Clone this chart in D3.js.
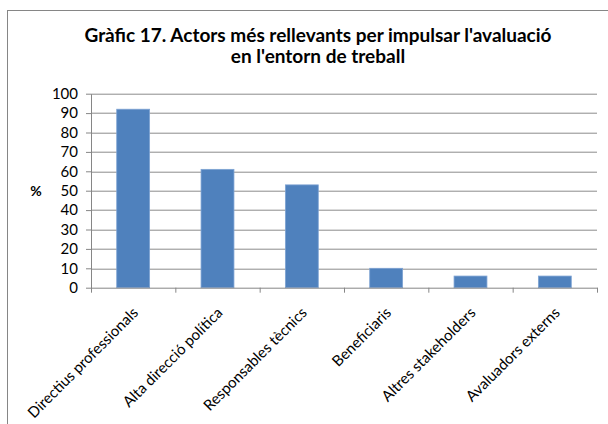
<!DOCTYPE html>
<html>
<head>
<meta charset="utf-8">
<script src="https://cdn.jsdelivr.net/npm/d3@7"></script>
<style>
  body { margin: 0; background: #fff; }
  text { font-family: Lato, "Open Sans", sans-serif; }
</style>
</head>
<body>
<svg id="drawing_region"></svg>
<script>
const categories = ["Directius professionals", "Alta direcció política", "Responsables tècnics",
                    "Beneficiaris", "Altres stakeholders", "Avaluadors externs"];
const values = [92, 61, 53, 10, 6, 6];
const yticks = [0, 10, 20, 30, 40, 50, 60, 70, 80, 90, 100];
const titleLines = ["Gràfic 17. Actors més rellevants per impulsar l'avaluació", "en l'entorn de treball"];

const data = categories.map((c, i) => ({label: c, value: values[i]}));

class BarChart {

    constructor( config, data ) {
        this.config = config;
        this.data = data;
        this.init();
    }

    init() {
        let self = this;
        const m = self.config.margin;

        self.svg = d3.select( self.config.parent )
            .attr('width', self.config.width)
            .attr('height', self.config.height);

        // outer frame of the chart
        self.svg.append('rect')
            .attr('x', 7.5).attr('y', 10.5)
            .attr('width', 640).attr('height', 460)
            .attr('fill', 'none')
            .attr('stroke', '#868686');

        self.inner_width = self.config.width - m.left - m.right;
        self.inner_height = self.config.height - m.top - m.bottom;

        self.chart = self.svg.append('g')
            .attr('transform', `translate(${m.left}, ${m.top})`);

        self.svg.append('text')
            .attr('x', 318)
            .attr('y', 42)
            .attr('text-anchor', 'middle')
            .attr('font-size', '19px')
            .attr('font-weight', 'bold')
            .selectAll('tspan')
            .data(titleLines)
            .join('tspan')
            .attr('x', 318)
            .attr('dy', (d, i) => i == 0 ? 0 : 21)
            .text(d => d);

        self.svg.append('text')
            .attr('x', 36)
            .attr('y', m.top + self.inner_height / 2 + 5)
            .attr('text-anchor', 'middle')
            .attr('font-size', '14px')
            .attr('font-weight', 'bold')
            .text('%');

        self.xscale = d3.scaleBand()
            .range([0, self.inner_width])
            .paddingInner(0.61)
            .paddingOuter(0.305);

        self.xband = d3.scaleBand()
            .range([0, self.inner_width]);

        self.yscale = d3.scaleLinear()
            .range([self.inner_height, 0]);

        self.grid_group = self.chart.append('g');
        self.bar_group = self.chart.append('g');
        self.xaxis_group = self.chart.append('g')
            .attr('transform', `translate(0, ${self.inner_height})`);
        self.yaxis_group = self.chart.append('g');
    }

    update() {
        let self = this;
        self.xscale.domain(self.data.map(d => d.label));
        self.xband.domain(self.data.map(d => d.label));
        self.yscale.domain([0, 100]);
        self.render();
    }

    render() {
        let self = this;

        self.grid_group.selectAll('line')
            .data(yticks.slice(1))
            .join('line')
            .attr('x1', 0)
            .attr('x2', self.inner_width)
            .attr('y1', d => Math.round(self.yscale(d)) + 0.5)
            .attr('y2', d => Math.round(self.yscale(d)) + 0.5)
            .attr('stroke', '#8c8c8c')
            .attr('stroke-width', 1);

        self.bar_group.selectAll('rect')
            .data(self.data)
            .join('rect')
            .attr('x', d => self.xscale(d.label))
            .attr('y', d => self.yscale(d.value))
            .attr('width', self.xscale.bandwidth())
            .attr('height', d => self.inner_height - self.yscale(d.value))
            .attr('fill', '#4f81bd')
            .attr('stroke', '#7ea3d3')
            .attr('stroke-width', 0.8);

        // x axis: ticks on category boundaries, labels rotated 45 degrees
        const step = self.xband.step();
        const xaxis = d3.axisBottom(d3.scaleLinear().domain([0, 6]).range([0, self.inner_width]))
            .tickValues(d3.range(0, 7))
            .tickSize(5)
            .tickSizeOuter(0)
            .tickFormat('');
        self.xaxis_group.call(xaxis);
        self.xaxis_group.select('.domain').attr('stroke', '#868686');
        self.xaxis_group.selectAll('.tick line').attr('stroke', '#868686');

        self.xaxis_group.selectAll('text.cat')
            .data(self.data)
            .join('text')
            .attr('class', 'cat')
            .attr('text-anchor', 'end')
            .attr('font-size', '15px')
            .attr('fill', '#000')
            .attr('transform', d => `translate(${self.xband(d.label) + step / 2 + 6}, 26) rotate(-45)`)
            .text(d => d.label);

        const yaxis = d3.axisLeft(self.yscale)
            .tickValues(yticks)
            .tickSize(5)
            .tickSizeOuter(0)
            .tickPadding(8);
        self.yaxis_group.call(yaxis);
        self.yaxis_group.select('.domain').attr('stroke', '#868686');
        self.yaxis_group.selectAll('.tick line').attr('stroke', '#868686');
        self.yaxis_group.selectAll('.tick text')
            .attr('font-size', '15px')
            .attr('font-family', 'Lato, "Open Sans", sans-serif')
            .attr('fill', '#000');
    }
}

const config = {
    parent: '#drawing_region',
    width: 608,
    height: 424,
    margin: {top: 93.7, right: 11, bottom: 136.3, left: 91}
};

const bar_chart = new BarChart( config, data );
bar_chart.update();
</script>
</body>
</html>
